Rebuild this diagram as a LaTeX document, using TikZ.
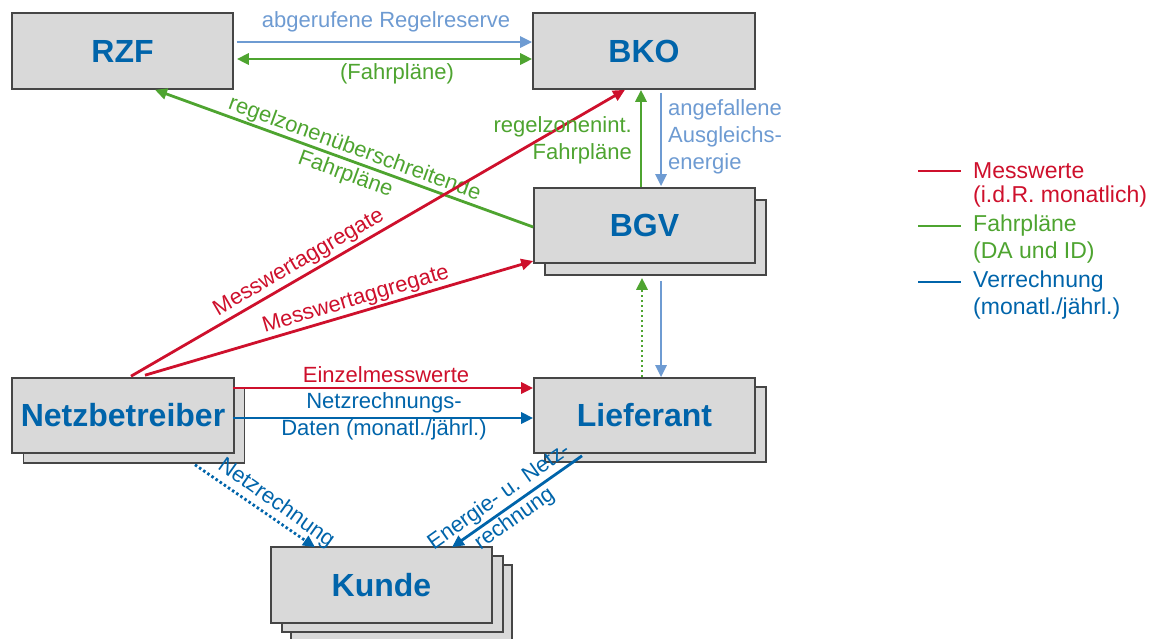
\documentclass[tikz,border=0pt]{standalone}
\usepackage{fontspec}
\setmainfont{Liberation Sans}
\usetikzlibrary{arrows.meta}
\definecolor{cred}{RGB}{206,16,44}
\definecolor{cgreen}{RGB}{78,164,48}
\definecolor{cblue}{RGB}{0,100,170}
\definecolor{clblue}{RGB}{110,155,210}
\definecolor{boxfill}{RGB}{217,217,217}
\definecolor{boxline}{RGB}{70,70,70}
\begin{document}
\begin{tikzpicture}[x=1pt,y=-1pt,
  box/.style={draw=boxline,line width=1.6pt,fill=boxfill,minimum width=221pt,minimum height=75pt,inner sep=0pt,
    font=\fontsize{32}{36}\bfseries\selectfont,text=cblue},
  lbl/.style={font=\fontsize{22}{27}\selectfont,inner sep=0pt,align=center},
  leg/.style={font=\fontsize{23}{28}\selectfont,inner sep=0pt,anchor=west},
  tip/.style={-{Triangle[length=12pt,width=11pt]}},
  redl/.style={cred,line width=2.8pt,tip},
  greenl/.style={cgreen,line width=2.8pt,tip},
  bluel/.style={cblue,line width=2.8pt,tip},
  lbluel/.style={clblue,line width=2.6pt,tip},
  dots/.style={dash pattern=on 2.5pt off 2.5pt}
]
\useasboundingbox (0,0) rectangle (1149,638);
\clip (0,0) rectangle (1149,638);

% back boxes
\node[box,minimum height=76pt] (kunde3) at (401.5,603) {};
\node[box,minimum height=76pt] (kunde2) at (392.5,594) {};
\node[box] (bgvb) at (655.5,237.5) {};
\node[box] (liefb) at (655.5,424.5) {};
\node[box] (netzb) at (134,425.5) {};
% front boxes
\node[box,minimum height=76pt] (rzf) at (122.5,51) {RZF};
\node[box,minimum height=76pt,minimum width=222pt] (bko) at (644,51) {BKO};
\node[box] (bgv) at (644.5,225.5) {BGV};
\node[box] (lief) at (644.5,415.5) {Lieferant};
\node[box,minimum width=222pt] (netz) at (123,415.5) {Netzbetreiber};
\node[box,minimum height=76pt] (kunde) at (381.5,585) {Kunde};

% RZF <-> BKO
\draw[lbluel,shorten <=3pt] ([yshift=9pt]rzf.east) -- ([yshift=9pt]bko.west);
\draw[cgreen,line width=2.8pt,{Triangle[length=12pt,width=11pt]}-{Triangle[length=12pt,width=11pt]},shorten <=3pt] ([yshift=-8pt]rzf.east) -- ([yshift=-8pt]bko.west);
\node[lbl,text=clblue] at (386,22) {abgerufene Regelreserve};
\node[lbl,text=cgreen] at (397,74) {(Fahrpläne)};

% BGV -> RZF
\draw[greenl] ([yshift=-1.5pt]bgv.west) -- ([xshift=32.5pt]rzf.south);
\node[lbl,text=cgreen,rotate=-20.05] at (350,162) {regelzonenüberschreitende\\Fahrpläne};

% Netz -> BKO, Netz -> BGV
\draw[redl] ([xshift=8pt,yshift=1pt]netz.north) -- ([xshift=-19pt]bko.south);
\node[lbl,text=cred,rotate=30.2] at (299,263) {Messwertaggregate};
\draw[redl] ([xshift=22pt,yshift=2pt]netz.north) -- ([yshift=-35.5pt]bgv.west);
\node[lbl,text=cred,rotate=16.5] at (356,300) {Messwertaggregate};

% BGV <-> BKO
\draw[greenl] ([xshift=-3.5pt]bgv.north) -- ([xshift=-3pt]bko.south);
\node[lbl,text=cgreen,align=right,anchor=east] at (632,140) {regelzonenint.\\Fahrpläne};
\draw[lbluel,shorten <=3pt,shorten >=1pt] ([xshift=17pt]bko.south) -- ([xshift=16.5pt]bgv.north);
\node[lbl,text=clblue,align=left,anchor=west] at (668,137) {angefallene\\Ausgleichs-\\energie};

% Lieferant <-> BGV
\draw[greenl,dots,shorten >=2pt] ([xshift=-2.5pt]lief.north) -- ([xshift=-13.5pt]bgvb.south);
\draw[lbluel,shorten <=5pt] ([xshift=5.5pt]bgvb.south) -- ([xshift=16.5pt]lief.north);

% Netz -> Lieferant
\draw[redl,shorten <=-2pt] ([yshift=27.5pt]netz.east) -- ([yshift=27.5pt]lief.west);
\node[lbl,text=cred] at (386,375) {Einzelmesswerte};
\draw[bluel,shorten <=-2pt] ([yshift=-2.5pt]netz.east) -- ([yshift=-2.5pt]lief.west);
\node[lbl,text=cblue] at (384,416) {Netzrechnungs-\\Daten (monatl./jährl.)};

% -> Kunde
\draw[bluel,dots] ([xshift=61pt,yshift=-1pt]netzb.south) -- ([xshift=-66.5pt,yshift=-1pt]kunde.north);
\node[lbl,text=cblue,rotate=-35.3] at (276,503) {Netzrechnung};
\draw[bluel] ([xshift=-62.5pt,yshift=-2pt]lief.south) -- ([xshift=70.5pt,yshift=-1pt]kunde.north);
\node[lbl,text=cblue,rotate=35.3] at (507,508) {Energie- u. Netz-\\rechnung};

% legend
\draw[cred,line width=2.8pt] (918,171) coordinate (l1a) -- (961,171) coordinate (l1b);
\node[leg,text=cred] (lt1) at (973,171) {Messwerte};
\node[leg,text=cred] (lt1b) at (973,197) {(i.d.R. monatlich)};
\draw[cgreen,line width=2.8pt] (918,226) coordinate (l2a) -- (961,226) coordinate (l2b);
\node[leg,text=cgreen] (lt2) at (973,226) {Fahrpläne};
\node[leg,text=cgreen] (lt2b) at (973,253) {(DA und ID)};
\draw[cblue,line width=2.8pt] (918,282) coordinate (l3a) -- (961,282) coordinate (l3b);
\node[leg,text=cblue] (lt3) at (973,282) {Verrechnung};
\node[leg,text=cblue] (lt3b) at (973,309) {(monatl./jährl.)};
\end{tikzpicture}
\end{document}
